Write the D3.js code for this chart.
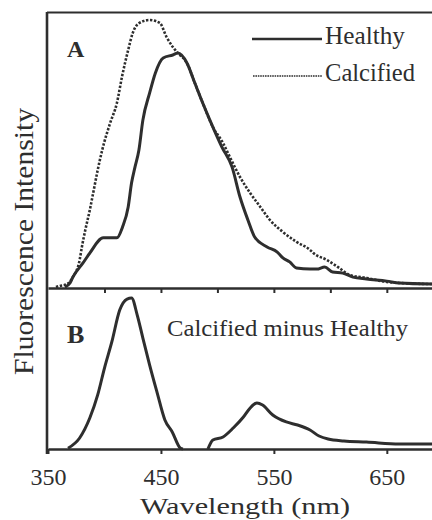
<!DOCTYPE html>
<html><head><meta charset="utf-8">
<script src="https://cdn.jsdelivr.net/npm/d3@7"></script>
<style>html,body{margin:0;padding:0;background:#fff;}svg{display:block;}</style>
</head><body>
<svg id="c" width="432" height="520"></svg>
<script>
// ---- data ----
const healthyNm = [365,369.5,372,381,387,399,411,416,421,424,427,430.5,434,440,445,452,460.5,465,473,480,487,496,504,513,520,527,533,544,553,558,564,570,582,588,595,602,611,620,632,650,661,690];
const healthyVal = [0,1.5,3.7,9,12.7,18.4,18.4,22.5,30,39,44.9,51.3,62.5,72.7,80.1,85.8,86.9,87.6,83.9,76.4,68.9,59.9,52.4,44.9,33.7,25.1,18.7,15,13.1,10.9,9.4,7.1,6.7,6.7,7.5,5.6,5.2,3.7,3,2.2,1.5,1.1];
const calcifiedNm = [357,360.5,367,372,378,380,383,387,390,394,398,405,411,415.5,421,425,431,440,449,455,460.5,465,473,480,487,496,505,511,520,529,538,546.5,558,570,582,585,597,608,617,632,650,661,690];
const calcifiedVal = [0,0.4,1.1,3.7,10.1,15,21.3,28.8,35.2,43.8,51.3,61.4,68.9,78.7,88.8,95.1,98.9,100,98.9,93.6,89.9,87.6,83.9,76.4,68.9,59.9,53.9,48.7,41.2,35.2,30,25.1,20.6,16.9,13.9,12.7,10.1,7.1,4.5,3.4,1.9,1.5,1.1];
const diffNm = [367.7,378,387,394,400,406.5,413.5,420,424,429,434,440,446.5,453.5,460,467,469.5,480,491.6,496,505,514,523,529,535,540,549,561,571,582,590,598,612,632,661,690];
const diffVal = [0.5,7.3,20.5,35.8,53.6,70.9,92,99.3,100,88.7,73.5,55.6,37.7,19.2,11.3,0.7,0,null,0,6,8,13.9,21.2,27.2,30.5,29.1,22.5,17.9,15.9,12.6,8.6,6.6,5.3,4.6,3.3,3.3];
const dividerTicks = [400,450,500,550,600,650];
const axisTicks = [350,450,550,650];
const seriesNames = ["Healthy","Calcified"];
const panelLabels = ["A","B"];
const diffTitle = "Calcified minus Healthy";
const xTitle = "Wavelength (nm)";
const yTitle = "Fluorescence Intensity";

// ---- layout ----
const ink = "#2e2e2e";
const svg = d3.select("#c");
const x = d3.scaleLinear().domain([350,690]).range([48,432]);
const yTop = d3.scaleLinear().domain([0,100]).range([287,20]);
const yBot = d3.scaleLinear().domain([0,100]).range([449,298]);
const serif = "'Liberation Serif','Times New Roman',serif";

const zip = (a,b)=>a.map((v,i)=>[v,b[i]]);
const lineTop = d3.line().x(d=>x(d[0])).y(d=>yTop(d[1])).curve(d3.curveMonotoneX);
const lineBot = d3.line().defined(d=>d[1]!=null).x(d=>x(d[0])).y(d=>yBot(d[1])).curve(d3.curveMonotoneX);

// curves
svg.append("path").attr("d", lineTop(zip(calcifiedNm,calcifiedVal)))
  .attr("fill","none").attr("stroke",ink).attr("stroke-width",2.6).attr("stroke-dasharray","2.4,1.6");
svg.append("path").attr("d", lineTop(zip(healthyNm,healthyVal)))
  .attr("fill","none").attr("stroke",ink).attr("stroke-width",3).attr("stroke-linejoin","round");
svg.append("path").attr("d", lineBot(zip(diffNm,diffVal)))
  .attr("fill","none").attr("stroke",ink).attr("stroke-width",3).attr("stroke-linejoin","round");

// frame
svg.append("line").attr("x1",47).attr("x2",432).attr("y1",12.5).attr("y2",12.5).attr("stroke",ink).attr("stroke-width",2.2);
svg.append("line").attr("x1",47).attr("x2",47).attr("y1",12).attr("y2",454).attr("stroke",ink).attr("stroke-width",2.6);

// divider axis (ticks pointing down)
const gDiv = svg.append("g").attr("transform","translate(0,288)")
  .call(d3.axisBottom(x).tickValues(dividerTicks).tickSize(5).tickSizeOuter(0).tickFormat(""));
gDiv.select(".domain").attr("stroke",ink).attr("stroke-width",2.6);
gDiv.selectAll(".tick line").attr("stroke",ink).attr("stroke-width",2);

// bottom axis
const gAx = svg.append("g").attr("transform","translate(0,449)")
  .call(d3.axisBottom(x).tickValues(axisTicks).tickSize(5).tickSizeOuter(0));
gAx.select(".domain").attr("stroke",ink).attr("stroke-width",2.6);
gAx.selectAll(".tick line").attr("stroke",ink).attr("stroke-width",2);
gAx.selectAll(".tick text").attr("y",36).attr("dy",0).attr("fill",ink)
  .attr("font-family",serif).attr("font-size",24);

// panel labels
svg.append("text").text(panelLabels[0]).attr("x",67).attr("y",57).attr("font-family",serif)
  .attr("font-weight","bold").attr("font-size",24).attr("fill",ink);
svg.append("text").text(panelLabels[1]).attr("x",67).attr("y",343).attr("font-family",serif)
  .attr("font-weight","bold").attr("font-size",26).attr("fill",ink);

// legend
const legY = [39,76];
svg.append("line").attr("x1",252).attr("x2",322).attr("y1",legY[0]).attr("y2",legY[0]).attr("stroke",ink).attr("stroke-width",2.4);
svg.append("line").attr("x1",253).attr("x2",322).attr("y1",legY[1]).attr("y2",legY[1]).attr("stroke",ink).attr("stroke-width",1.6).attr("stroke-dasharray","1.6,0.8");
svg.append("text").text(seriesNames[0]).attr("x",325).attr("y",44).attr("font-family",serif)
  .attr("font-size",25).attr("fill",ink).attr("textLength",80).attr("lengthAdjust","spacingAndGlyphs");
svg.append("text").text(seriesNames[1]).attr("x",325).attr("y",81).attr("font-family",serif)
  .attr("font-size",25).attr("fill",ink).attr("textLength",90).attr("lengthAdjust","spacingAndGlyphs");

// difference title
svg.append("text").text(diffTitle).attr("x",167).attr("y",336).attr("font-family",serif)
  .attr("font-size",23).attr("fill",ink).attr("textLength",241).attr("lengthAdjust","spacingAndGlyphs");

// axis titles
svg.append("text").text(xTitle).attr("x",140).attr("y",514).attr("font-family",serif)
  .attr("font-size",24).attr("fill",ink).attr("textLength",210).attr("lengthAdjust","spacingAndGlyphs");
svg.append("text").text(yTitle).attr("transform","translate(33,375) rotate(-90)")
  .attr("font-family",serif).attr("font-size",27).attr("fill",ink)
  .attr("textLength",267).attr("lengthAdjust","spacingAndGlyphs");
</script>
</body></html>
